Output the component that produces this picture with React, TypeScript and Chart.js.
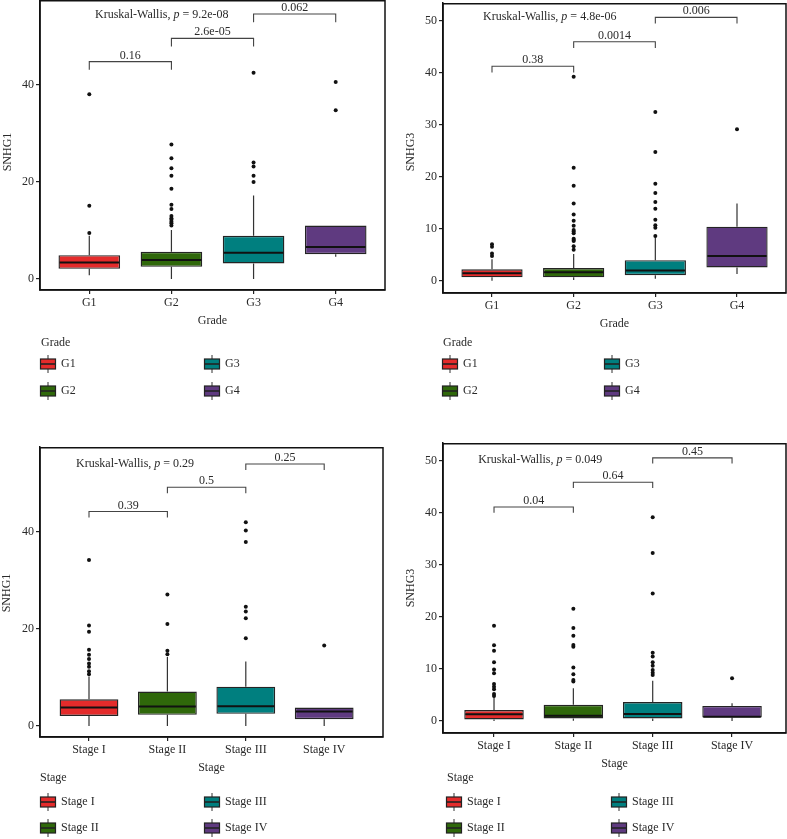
import React, { useEffect, useRef } from "react";
import { Chart, registerables } from "chart.js";

Chart.register(...registerables);

const FONT = '"Liberation Serif", "Times New Roman", serif';
const TEXT = "#2a2a2a";

// ---------- shared ----------
const gradeCategories = ["G1", "G2", "G3", "G4"];
const stageCategories = ["Stage I", "Stage II", "Stage III", "Stage IV"];
const groupColors = ["#E42B2B", "#2F680A", "#007F7F", "#5F3A80"];
const comparisonPairs = [[1, 2], [2, 3], [3, 4]];
const yTicksSNHG1 = [0, 20, 40];
const yTicksSNHG3 = [0, 10, 20, 30, 40, 50];

// ---------- Panel A: SNHG1 by Grade ----------
const gradeSNHG1Q1 = [2.1, 2.5, 3.2, 5.1];
const gradeSNHG1Median = [3.4, 3.9, 5.4, 6.6];
const gradeSNHG1Q3 = [4.9, 5.6, 8.9, 11.0];
const gradeSNHG1WhiskerLo = [0.75, 0.0, 0.0, 4.6];
const gradeSNHG1WhiskerHi = [8.9, 10.1, 17.2, 11.0];
const gradeSNHG1OutG1 = [9.5, 15.1, 38.1];
const gradeSNHG1OutG2 = [11.0, 11.5, 11.8, 12.2, 12.5, 13.0, 14.4, 15.3, 18.6, 21.3, 22.8, 24.9, 27.7];
const gradeSNHG1OutG3 = [20.0, 21.3, 23.2, 24.0, 42.5];
const gradeSNHG1OutG4 = [34.8, 40.6];
const gradeSNHG1BracketY = [44.8, 49.6, 54.6];
const gradeSNHG1BracketLabels = ["0.16", "2.6e-05", "0.062"];
const gradeSNHG1KW = "9.2e-08";

// ---------- Panel B: SNHG3 by Grade ----------
const gradeSNHG3Q1 = [0.7, 0.7, 1.1, 2.6];
const gradeSNHG3Median = [1.5, 1.7, 2.0, 4.8];
const gradeSNHG3Q3 = [2.25, 2.5, 4.0, 10.45];
const gradeSNHG3WhiskerLo = [0.06, 0.2, 0.45, 1.35];
const gradeSNHG3WhiskerHi = [4.2, 5.2, 8.4, 14.9];
const gradeSNHG3OutG1 = [4.8, 5.3, 6.6, 7.05];
const gradeSNHG3OutG2 = [6.0, 6.7, 7.7, 7.9, 8.1, 9.2, 9.5, 9.8, 10.6, 11.6, 12.8, 14.9, 18.3, 21.8, 39.3];
const gradeSNHG3OutG3 = [8.65, 10.25, 10.7, 11.8, 13.9, 15.2, 16.9, 18.7, 24.8, 32.5];
const gradeSNHG3OutG4 = [29.2];
const gradeSNHG3BracketY = [41.3, 46.0, 50.7];
const gradeSNHG3BracketLabels = ["0.38", "0.0014", "0.006"];
const gradeSNHG3KW = "4.8e-06";

// ---------- Panel C: SNHG1 by Stage ----------
const stageSNHG1Q1 = [2.06, 2.3, 2.5, 1.4];
const stageSNHG1Median = [3.8, 4.0, 4.05, 3.0];
const stageSNHG1Q3 = [5.5, 7.1, 8.1, 3.8];
const stageSNHG1WhiskerLo = [0.0, 0.0, 0.0, 0.0];
const stageSNHG1WhiskerHi = [10.2, 14.2, 13.3, 3.8];
const stageSNHG1OutI = [10.65, 11.3, 12.2, 12.9, 13.8, 14.7, 15.7, 19.4, 20.7, 34.2];
const stageSNHG1OutII = [14.8, 15.5, 21.0, 27.1];
const stageSNHG1OutIII = [18.1, 22.2, 23.6, 24.6, 37.9, 40.3, 42.0];
const stageSNHG1OutIV = [16.6];
const stageSNHG1BracketY = [44.2, 49.2, 54.0];
const stageSNHG1BracketLabels = ["0.39", "0.5", "0.25"];
const stageSNHG1KW = "0.29";

// ---------- Panel D: SNHG3 by Stage ----------
const stageSNHG3Q1 = [0.3, 0.5, 0.5, 0.65];
const stageSNHG3Median = [1.3, 1.0, 1.35, 0.8];
const stageSNHG3Q3 = [2.1, 3.1, 3.65, 2.9];
const stageSNHG3WhiskerLo = [0.0, 0.05, 0.0, 0.0];
const stageSNHG3WhiskerHi = [4.55, 6.3, 7.75, 3.4];
const stageSNHG3OutI = [4.8, 5.2, 6.1, 6.6, 7.1, 9.2, 9.9, 11.3, 13.5, 14.55, 18.3];
const stageSNHG3OutII = [7.6, 7.9, 9.0, 10.3, 14.3, 14.6, 16.4, 17.9, 21.6];
const stageSNHG3OutIII = [8.85, 9.3, 9.8, 10.6, 11.3, 12.4, 13.1, 24.5, 32.3, 39.2];
const stageSNHG3OutIV = [8.2];
const stageSNHG3BracketY = [41.15, 45.9, 50.6];
const stageSNHG3BracketLabels = ["0.04", "0.64", "0.45"];
const stageSNHG3KW = "0.049";

type Panel = {
  cats: string[];
  q1: number[];
  med: number[];
  q3: number[];
  lo: number[];
  hi: number[];
  outliers: number[][];
  yTicks: number[];
  yMin: number;
  yMax: number;
  xMin: number;
  xMax: number;
  bracketY: number[];
  bracketLabels: string[];
  tip: number;
  kw: string;
  kwX: number;
  kwY: number;
  yTitle: string;
  xTitle: string;
  ox: number;
  oy: number;
  W: number;
  H: number;
  left: number;
  right: number;
  top: number;
  bottom: number;
  yTitleX: number;
  yTitleY: number;
  legTitleX: number;
  legTitleY: number;
  legX1: number;
  legX2: number;
  legRow1: number;
  legRow2: number;
};

const panels: Panel[] = [
  {
    cats: gradeCategories,
    q1: gradeSNHG1Q1, med: gradeSNHG1Median, q3: gradeSNHG1Q3,
    lo: gradeSNHG1WhiskerLo, hi: gradeSNHG1WhiskerHi,
    outliers: [gradeSNHG1OutG1, gradeSNHG1OutG2, gradeSNHG1OutG3, gradeSNHG1OutG4],
    yTicks: yTicksSNHG1, yMin: -2.27, yMax: 57.5, xMin: 0.4, xMax: 4.6,
    bracketY: gradeSNHG1BracketY, bracketLabels: gradeSNHG1BracketLabels, tip: 1.7,
    kw: gradeSNHG1KW, kwX: 1.07, kwY: 54.5,
    yTitle: "SNHG1", xTitle: "Grade",
    ox: 0, oy: 0, W: 395, H: 410, left: 40, right: 385, top: 0, bottom: 290,
    yTitleX: 8, yTitleY: 152,
    legTitleX: 41, legTitleY: 343, legX1: 40, legX2: 204, legRow1: 364, legRow2: 391,
  },
  {
    cats: gradeCategories,
    q1: gradeSNHG3Q1, med: gradeSNHG3Median, q3: gradeSNHG3Q3,
    lo: gradeSNHG3WhiskerLo, hi: gradeSNHG3WhiskerHi,
    outliers: [gradeSNHG3OutG1, gradeSNHG3OutG2, gradeSNHG3OutG3, gradeSNHG3OutG4],
    yTicks: yTicksSNHG3, yMin: -2.31, yMax: 53.46, xMin: 0.4, xMax: 4.6,
    bracketY: gradeSNHG3BracketY, bracketLabels: gradeSNHG3BracketLabels, tip: 1.2,
    kw: gradeSNHG3KW, kwX: 0.89, kwY: 50.8,
    yTitle: "SNHG3", xTitle: "Grade",
    ox: 395, oy: 0, W: 392, H: 410, left: 48, right: 391, top: 3, bottom: 293,
    yTitleX: 16, yTitleY: 152,
    legTitleX: 48, legTitleY: 343, legX1: 47, legX2: 209, legRow1: 364, legRow2: 391,
  },
  {
    cats: stageCategories,
    q1: stageSNHG1Q1, med: stageSNHG1Median, q3: stageSNHG1Q3,
    lo: stageSNHG1WhiskerLo, hi: stageSNHG1WhiskerHi,
    outliers: [stageSNHG1OutI, stageSNHG1OutII, stageSNHG1OutIII, stageSNHG1OutIV],
    yTicks: yTicksSNHG1, yMin: -2.27, yMax: 57.5, xMin: 0.375, xMax: 4.75,
    bracketY: stageSNHG1BracketY, bracketLabels: stageSNHG1BracketLabels, tip: 1.25,
    kw: stageSNHG1KW, kwX: 0.834, kwY: 54.0,
    yTitle: "SNHG1", xTitle: "Stage",
    ox: 0, oy: 410, W: 395, H: 429, left: 40, right: 383, top: 37, bottom: 327,
    yTitleX: 7, yTitleY: 183,
    legTitleX: 40, legTitleY: 368, legX1: 40, legX2: 204, legRow1: 392, legRow2: 418,
  },
  {
    cats: stageCategories,
    q1: stageSNHG3Q1, med: stageSNHG3Median, q3: stageSNHG3Q3,
    lo: stageSNHG3WhiskerLo, hi: stageSNHG3WhiskerHi,
    outliers: [stageSNHG3OutI, stageSNHG3OutII, stageSNHG3OutIII, stageSNHG3OutIV],
    yTicks: yTicksSNHG3, yMin: -2.31, yMax: 53.46, xMin: 0.357, xMax: 4.68,
    bracketY: stageSNHG3BracketY, bracketLabels: stageSNHG3BracketLabels, tip: 1.1,
    kw: stageSNHG3KW, kwX: 0.8, kwY: 50.2,
    yTitle: "SNHG3", xTitle: "Stage",
    ox: 395, oy: 410, W: 392, H: 429, left: 48, right: 391, top: 33, bottom: 323,
    yTitleX: 16, yTitleY: 178,
    legTitleX: 52, legTitleY: 368, legX1: 51, legX2: 216, legRow1: 392, legRow2: 418,
  },
];

function drawLegendKey(ctx: CanvasRenderingContext2D, x: number, cy: number, color: string) {
  ctx.save();
  ctx.strokeStyle = "#333";
  ctx.lineWidth = 1;
  ctx.beginPath();
  ctx.moveTo(x + 8, cy - 9);
  ctx.lineTo(x + 8, cy + 9);
  ctx.stroke();
  ctx.fillStyle = color;
  ctx.fillRect(x, cy - 5, 16, 10);
  ctx.strokeStyle = "#222";
  ctx.lineWidth = 1.2;
  ctx.strokeRect(x + 0.5, cy - 5, 15, 10);
  ctx.lineWidth = 1.6;
  ctx.beginPath();
  ctx.moveTo(x, cy);
  ctx.lineTo(x + 16, cy);
  ctx.stroke();
  ctx.restore();
}

function makePlugin(p: Panel) {
  return {
    id: "boxplotExtras",
    beforeDatasetsDraw(chart: any) {
      const ctx: CanvasRenderingContext2D = chart.ctx;
      const xs = chart.scales.x;
      const ys = chart.scales.y;
      ctx.save();
      ctx.strokeStyle = "#333";
      ctx.lineWidth = 1.2;
      p.cats.forEach((_, i) => {
        const cx = xs.getPixelForValue(i + 1);
        ctx.beginPath();
        ctx.moveTo(cx, ys.getPixelForValue(p.q3[i]));
        ctx.lineTo(cx, ys.getPixelForValue(p.hi[i]));
        ctx.moveTo(cx, ys.getPixelForValue(p.q1[i]));
        ctx.lineTo(cx, ys.getPixelForValue(p.lo[i]));
        ctx.stroke();
      });
      ctx.restore();
    },
    afterDatasetsDraw(chart: any) {
      const ctx: CanvasRenderingContext2D = chart.ctx;
      const xs = chart.scales.x;
      const ys = chart.scales.y;
      const meta = chart.getDatasetMeta(0);
      const area = chart.chartArea;
      ctx.save();
      // medians
      ctx.strokeStyle = "#111";
      ctx.lineWidth = 2;
      p.cats.forEach((_, i) => {
        const el: any = meta.data[i];
        const half = el.width / 2;
        const y = ys.getPixelForValue(p.med[i]);
        ctx.beginPath();
        ctx.moveTo(el.x - half + 1, y);
        ctx.lineTo(el.x + half - 1, y);
        ctx.stroke();
      });
      // brackets
      ctx.strokeStyle = "#444";
      ctx.lineWidth = 1.1;
      ctx.fillStyle = TEXT;
      ctx.font = `12px ${FONT}`;
      ctx.textAlign = "center";
      ctx.textBaseline = "alphabetic";
      comparisonPairs.forEach(([a, b], k) => {
        const x1 = xs.getPixelForValue(a);
        const x2 = xs.getPixelForValue(b);
        const y = ys.getPixelForValue(p.bracketY[k]);
        const yt = ys.getPixelForValue(p.bracketY[k] - p.tip);
        ctx.beginPath();
        ctx.moveTo(x1, yt);
        ctx.lineTo(x1, y);
        ctx.lineTo(x2, y);
        ctx.lineTo(x2, yt);
        ctx.stroke();
        ctx.fillText(p.bracketLabels[k], (x1 + x2) / 2, y - 3);
      });
      // Kruskal-Wallis label
      const kx = xs.getPixelForValue(p.kwX);
      const ky = ys.getPixelForValue(p.kwY);
      ctx.textAlign = "left";
      ctx.textBaseline = "middle";
      const part1 = "Kruskal-Wallis, ";
      const part3 = " = " + p.kw;
      ctx.font = `12px ${FONT}`;
      ctx.fillText(part1, kx, ky);
      let cx = kx + ctx.measureText(part1).width;
      ctx.font = `italic 12px ${FONT}`;
      ctx.fillText("p", cx, ky);
      cx += ctx.measureText("p").width;
      ctx.font = `12px ${FONT}`;
      ctx.fillText(part3, cx, ky);
      // panel border
      ctx.strokeStyle = "#111";
      ctx.lineWidth = 1.5;
      ctx.strokeRect(area.left, area.top + 0.75, area.right - area.left, area.bottom - area.top - 0.75);
      ctx.restore();
    },
    afterDraw(chart: any) {
      const ctx: CanvasRenderingContext2D = chart.ctx;
      const area = chart.chartArea;
      ctx.save();
      ctx.fillStyle = TEXT;
      ctx.font = `12px ${FONT}`;
      ctx.textAlign = "center";
      ctx.textBaseline = "middle";
      ctx.fillText(p.xTitle, (area.left + area.right) / 2, area.bottom + 31);
      ctx.save();
      ctx.translate(p.yTitleX, p.yTitleY);
      ctx.rotate(-Math.PI / 2);
      ctx.fillText(p.yTitle, 0, 0);
      ctx.restore();
      ctx.textAlign = "left";
      ctx.fillText(p.xTitle, p.legTitleX, p.legTitleY);
      const slots = [
        [p.legX1, p.legRow1],
        [p.legX1, p.legRow2],
        [p.legX2, p.legRow1],
        [p.legX2, p.legRow2],
      ];
      p.cats.forEach((c, i) => {
        const [lx, ly] = slots[i];
        drawLegendKey(ctx, lx, ly, groupColors[i]);
        ctx.fillStyle = TEXT;
        ctx.fillText(c, lx + 21, ly);
      });
      ctx.restore();
    },
  };
}

function BoxPanel({ p }: { p: Panel }) {
  const ref = useRef<HTMLCanvasElement | null>(null);
  useEffect(() => {
    if (!ref.current) return;
    const boxData = p.cats.map((_, i) => ({ x: i + 1, y: [p.q1[i], p.q3[i]] }));
    const outlierData: { x: number; y: number }[] = [];
    p.outliers.forEach((arr, i) => arr.forEach((v) => outlierData.push({ x: i + 1, y: v })));
    const tickFont = { family: FONT, size: 12 };
    const chart = new Chart(ref.current, {
      type: "bar",
      data: {
        datasets: [
          {
            type: "bar",
            data: boxData as any,
            backgroundColor: groupColors,
            borderColor: "#242424",
            borderWidth: 1.4,
            borderSkipped: false,
            barPercentage: 0.75,
            categoryPercentage: 1,
          } as any,
          {
            type: "scatter",
            data: outlierData,
            pointRadius: 2,
            pointBackgroundColor: "#111",
            pointBorderWidth: 0,
            pointBorderColor: "#111",
          } as any,
        ],
      },
      options: {
        animation: false,
        responsive: false,
        maintainAspectRatio: false,
        devicePixelRatio: 1,
        events: [],
        layout: { autoPadding: false, padding: { left: 0, top: p.top, right: p.W - p.right, bottom: 0 } },
        plugins: { legend: { display: false }, tooltip: { enabled: false } },
        scales: {
          x: {
            type: "linear",
            min: p.xMin,
            max: p.xMax,
            offset: false,
            afterBuildTicks: (s: any) => {
              s.ticks = p.cats.map((_, i) => ({ value: i + 1 }));
            },
            afterFit: (s: any) => {
              s.height = p.H - p.bottom;
              s.paddingLeft = 0;
              s.paddingRight = 0;
            },
            ticks: {
              callback: (_v: any, idx: number) => p.cats[idx],
              font: tickFont,
              color: TEXT,
              padding: 2,
              autoSkip: false,
              maxRotation: 0,
              minRotation: 0,
            },
            grid: {
              display: true,
              offset: false,
              drawOnChartArea: false,
              drawTicks: true,
              tickLength: 4,
              color: "#222",
              lineWidth: 1.2,
            },
            border: { display: true, color: "#111", width: 1.5 },
          } as any,
          y: {
            type: "linear",
            min: p.yMin,
            max: p.yMax,
            afterBuildTicks: (s: any) => {
              s.ticks = p.yTicks.map((v) => ({ value: v }));
            },
            afterFit: (s: any) => {
              s.width = p.left;
              s.paddingTop = 0;
              s.paddingBottom = 0;
            },
            ticks: {
              font: tickFont,
              color: TEXT,
              padding: 2,
              callback: (v: any) => String(v),
            },
            grid: {
              display: true,
              drawOnChartArea: false,
              drawTicks: true,
              tickLength: 4,
              color: "#222",
              lineWidth: 1.2,
            },
            border: { display: true, color: "#111", width: 1.5 },
          } as any,
        },
      },
      plugins: [makePlugin(p) as any],
    });
    return () => chart.destroy();
  }, [p]);
  return (
    <canvas
      ref={ref}
      width={p.W}
      height={p.H}
      style={{ position: "absolute", left: p.ox, top: p.oy, width: p.W, height: p.H, display: "block" }}
    />
  );
}

export default function App() {
  return (
    <div style={{ position: "absolute", left: 0, top: 0, width: 787, height: 839, background: "#fff", overflow: "hidden" }}>
      {panels.map((p, i) => (
        <BoxPanel key={i} p={p} />
      ))}
    </div>
  );
}
